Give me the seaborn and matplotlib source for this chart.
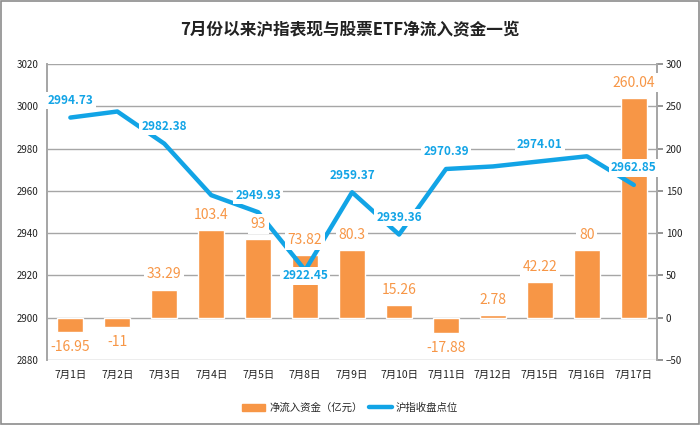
import numpy as np
import matplotlib
matplotlib.use("Agg")
import matplotlib.pyplot as plt
import seaborn as sns
from matplotlib.patches import Rectangle, Patch
from matplotlib.lines import Line2D

dates = ["7月1日", "7月2日", "7月3日", "7月4日", "7月5日", "7月8日", "7月9日",
         "7月10日", "7月11日", "7月12日", "7月15日", "7月16日", "7月17日"]
inflow = [-16.95, -11, 33.29, 103.4, 93, 73.82, 80.3, 15.26, -17.88, 2.78, 42.22, 80, 260.04]
index_close = [2994.73, 2997.6, 2982.38, 2958.0, 2949.93, 2922.45, 2959.37,
               2939.36, 2970.39, 2971.6, 2974.01, 2976.4, 2962.85]
# which closes get a text label, and whether it sits above (1) or below (-1)
index_label = [1, 0, 1, 0, 1, -1, 1, 1, 1, 0, 1, 0, 1]

orange = "#F79646"
blue = "#12A4E6"

sns.set_theme(style="white")
plt.rcParams["font.family"] = ["Noto Sans CJK SC", "DejaVu Sans"]

fig = plt.figure(figsize=(7, 4.25), dpi=100)
ax = fig.add_axes([0.067, 0.153, 0.872, 0.696])

# bars go on the primary axes (drawn below), scale shown on the right
sns.barplot(x=dates, y=inflow, color=orange, width=0.55, saturation=1, ax=ax, zorder=2)
ax.set_ylim(-50, 300)
ax.set_yticks(np.arange(-50, 301, 50))
ax.set_axisbelow(True)
ax.grid(axis="y", color="#A6A6A6", linewidth=1)
ax.set_xlim(-0.5, len(dates) - 0.5)
ax.set_xlabel("")
ax.set_ylabel("")

# line on the twin axes, scale shown on the left
ax2 = ax.twinx()
pos = np.arange(len(dates))
sns.lineplot(x=pos, y=index_close, color=blue, linewidth=3.2, ax=ax2, zorder=3)
ax2.set_ylim(2880, 3020)
ax2.set_yticks(np.arange(2880, 3021, 20))
ax2.set_ylabel("")

ax.yaxis.tick_right()
ax.yaxis.set_label_position("right")
ax2.yaxis.tick_left()
ax.tick_params(axis="y", right=True, left=False, length=4, color="#888888",
               labelsize=7, labelcolor="#222222", pad=2)
ax.tick_params(axis="x", length=0, labelsize=7.5, labelcolor="#222222", pad=7)
ax2.tick_params(axis="y", left=False, right=False, length=0, labelsize=7,
                labelcolor="#222222", pad=6)

# bar labels live on the top axes so their white boxes cut the line
for i, v in enumerate(inflow):
    off = 11 if v >= 0 else -11
    ax2.annotate(f"{v:g}", (i, v), xycoords=ax.transData, xytext=(0, off),
                 textcoords="offset points", ha="center", va="center",
                 fontsize=10, fontweight="medium", color=orange, zorder=6,
                 bbox=dict(boxstyle="square,pad=0.2", fc="white", ec="none"))

for i, (v, lab) in enumerate(zip(index_close, index_label)):
    if lab == 0:
        continue
    off = 12.3 if lab > 0 else -4
    ax2.annotate(f"{v:.2f}", (i, v), xytext=(0, off), textcoords="offset points",
                 ha="center", va="center", fontsize=8.5, fontweight="bold",
                 color=blue, zorder=6,
                 bbox=dict(boxstyle="square,pad=0.2", fc="white", ec="none"))

for a in (ax, ax2):
    for s in ("top", "bottom"):
        a.spines[s].set_visible(False)
    a.spines["left"].set_color("#A6A6A6")
    a.spines["right"].set_color("#A6A6A6")

fig.text(0.5, 0.93, "7月份以来沪指表现与股票ETF净流入资金一览", ha="center",
         va="center", fontsize=12, fontweight="bold", color="#222222")

handles = [Patch(color=orange), Line2D([0], [0], color=blue, linewidth=3.2)]
fig.legend(handles, ["净流入资金（亿元）", "沪指收盘点位"], loc="center",
           bbox_to_anchor=(0.5, 0.04), ncol=2, frameon=False, fontsize=7.5,
           handlelength=2.2, columnspacing=0.6, handletextpad=0.4)

fig.patches.append(Rectangle((0.002, 0.003), 0.996, 0.994, transform=fig.transFigure,
                             fill=False, ec="#8C8C8C", lw=1.2))

fig.savefig("out.png", dpi=100)
